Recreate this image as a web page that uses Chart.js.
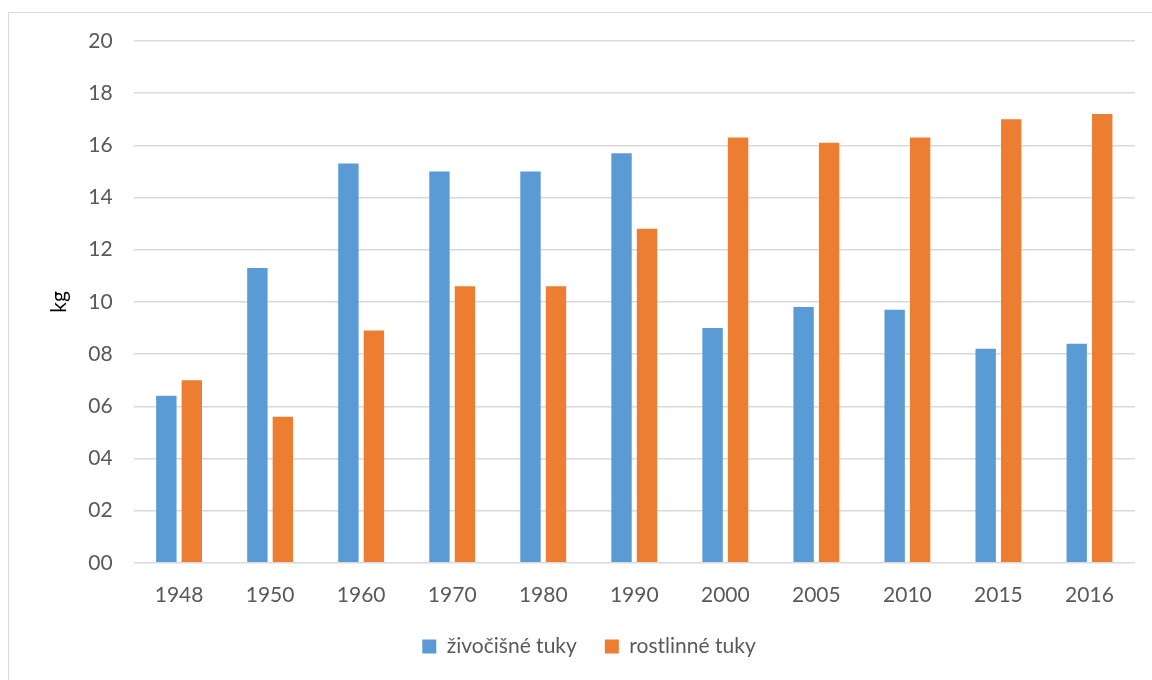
<!DOCTYPE html>
<html>
<head>
<meta charset="utf-8">
<script src="https://cdn.jsdelivr.net/npm/chart.js@4/dist/chart.umd.min.js"></script>
<style>
    html, body {
        margin: 0;
        padding: 0;
        background: #fff;
        overflow: hidden;
    }
    .frame {
        position: absolute;
        left: 8px;
        top: 12px;
        width: 1180px;
        height: 720px;
        border: 1px solid #d9d9d9;
        box-sizing: border-box;
    }
    .chart-box {
        position: absolute;
        left: 0;
        top: 0;
        width: 1152px;
        height: 680px;
    }
</style>
</head>
<body>
<div class="frame"></div>
<div class="chart-box">
    <canvas id="fatsChart" width="1152" height="680"></canvas>
</div>
<script>
const years = ['1948', '1950', '1960', '1970', '1980', '1990', '2000', '2005', '2010', '2015', '2016'];
const animalFats = [6.4, 11.3, 15.3, 15.0, 15.0, 15.7, 9.0, 9.8, 9.7, 8.2, 8.4];
const plantFats = [7.0, 5.6, 8.9, 10.6, 10.6, 12.8, 16.3, 16.1, 16.3, 17.0, 17.2];
const yTickLabels = ['00', '02', '04', '06', '08', '10', '12', '14', '16', '18', '20'];

const fontFamily = 'Lato, "Open Sans", sans-serif';
const textColor = '#595959';

document.addEventListener('DOMContentLoaded', () => {
    const ctx = document.getElementById('fatsChart').getContext('2d');
    new Chart(ctx, {
        type: 'bar',
        data: {
            labels: years,
            datasets: [
                {
                    label: 'živočišné tuky',
                    data: animalFats,
                    backgroundColor: '#5b9bd5'
                },
                {
                    label: 'rostlinné tuky',
                    data: plantFats,
                    backgroundColor: '#ed7d31'
                }
            ]
        },
        options: {
            responsive: false,
            animation: false,
            categoryPercentage: 0.56,
            barPercentage: 0.8,
            layout: {
                padding: { left: 43, right: 17, top: 41, bottom: 13 }
            },
            plugins: {
                legend: {
                    position: 'bottom',
                    labels: {
                        boxWidth: 14,
                        boxHeight: 14,
                        padding: 28,
                        color: textColor,
                        font: { family: fontFamily, size: 21 }
                    }
                },
                tooltip: { enabled: false }
            },
            scales: {
                x: {
                    // tick marks are hidden but their length still spaces the labels
                    grid: { display: false, tickLength: 20 },
                    border: { display: false },
                    ticks: {
                        color: textColor,
                        padding: 0,
                        font: { family: fontFamily, size: 21 }
                    }
                },
                y: {
                    min: 0,
                    max: 20,
                    border: { display: false },
                    grid: {
                        color: '#d9d9d9',
                        lineWidth: 1.5,
                        drawTicks: false
                    },
                    title: {
                        display: true,
                        text: 'kg',
                        color: '#000',
                        padding: { top: 4, bottom: -5 },
                        font: { family: fontFamily, size: 21 }
                    },
                    ticks: {
                        stepSize: 2,
                        padding: 21,
                        color: textColor,
                        font: { family: fontFamily, size: 21 },
                        callback: (value, index) => yTickLabels[index]
                    }
                }
            }
        }
    });
});
</script>
</body>
</html>
